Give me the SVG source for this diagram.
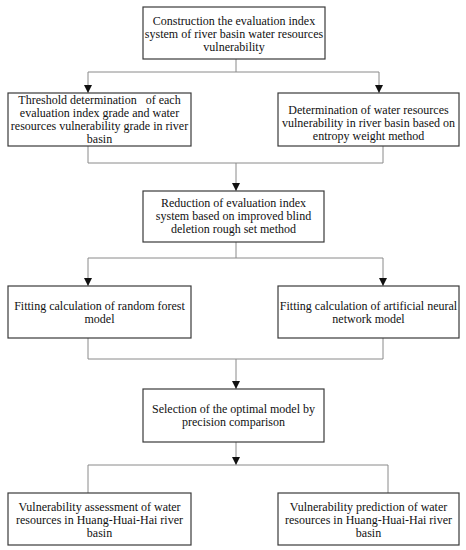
<svg xmlns="http://www.w3.org/2000/svg" width="466" height="550" viewBox="0 0 466 550">
<style>
.box{fill:#fff;stroke:#3a3a3a;stroke-width:1.2}
.ln{fill:none;stroke:#8a8a8a;stroke-width:1}
text{font-family:"Liberation Serif","Times New Roman",serif;font-size:12px;fill:#111;text-anchor:middle}
</style>
<defs>
<marker id="ah" viewBox="0 0 8 10" refX="8" refY="5" markerWidth="8" markerHeight="10" markerUnits="userSpaceOnUse" orient="auto">
<path d="M0,1 L8,5 L0,9 Z" fill="#111"/>
</marker>
</defs>
<rect width="466" height="550" fill="#fff"/>
<g id="connectors">
<path class="ln" d="M236,59 V72 M88,72 H379"/>
<path class="ln" d="M88,72 V93" marker-end="url(#ah)"/>
<path class="ln" d="M379,72 V93" marker-end="url(#ah)"/>
<path class="ln" d="M88,146 V163 H383 V146"/>
<path class="ln" d="M236,163 V191" marker-end="url(#ah)"/>
<path class="ln" d="M236,242 V258 M88,258 H383"/>
<path class="ln" d="M88,258 V286" marker-end="url(#ah)"/>
<path class="ln" d="M383,258 V286" marker-end="url(#ah)"/>
<path class="ln" d="M88,338 V359 H383 V338"/>
<path class="ln" d="M236,359 V389" marker-end="url(#ah)"/>
<path class="ln" d="M236,442 V465" marker-end="url(#ah)"/>
<path class="ln" d="M88,493 V465 H388 V493"/>
</g>
<g id="n1">
<rect class="box" x="143" y="7" width="182" height="52"/>
<text x="234" y="25">Construction the evaluation index</text>
<text x="234" y="38">system of river basin water resources</text>
<text x="234" y="51">vulnerability</text>
</g>
<g id="n2">
<rect class="box" x="8" y="93" width="183" height="53"/>
<text x="99.5" y="104" xml:space="preserve">Threshold determination   of each</text>
<text x="99.5" y="117">evaluation index grade and water</text>
<text x="99.5" y="130">resources vulnerability grade in river</text>
<text x="99.5" y="143">basin</text>
</g>
<g id="n3">
<rect class="box" x="278" y="93" width="181" height="53"/>
<text x="368.5" y="114">Determination of water resources</text>
<text x="368.5" y="127">vulnerability in river basin based on</text>
<text x="368.5" y="140">entropy weight method</text>
</g>
<g id="n4">
<rect class="box" x="143" y="191" width="181" height="51"/>
<text x="233.5" y="207">Reduction of evaluation index</text>
<text x="233.5" y="220">system based on improved blind</text>
<text x="233.5" y="233">deletion rough set method</text>
</g>
<g id="n5">
<rect class="box" x="8" y="286" width="183" height="52"/>
<text x="99.5" y="310">Fitting calculation of random forest</text>
<text x="99.5" y="323">model</text>
</g>
<g id="n6">
<rect class="box" x="278" y="286" width="181" height="52"/>
<text x="368.5" y="310">Fitting calculation of artificial neural</text>
<text x="368.5" y="323">network model</text>
</g>
<g id="n7">
<rect class="box" x="143" y="389" width="181" height="53"/>
<text x="233.5" y="413">Selection of the optimal model by</text>
<text x="233.5" y="426">precision comparison</text>
</g>
<g id="n8">
<rect class="box" x="8" y="493" width="183" height="52"/>
<text x="99.5" y="511">Vulnerability assessment of water</text>
<text x="99.5" y="524">resources in Huang-Huai-Hai river</text>
<text x="99.5" y="537">basin</text>
</g>
<g id="n9">
<rect class="box" x="278" y="493" width="181" height="52"/>
<text x="368.5" y="511">Vulnerability prediction of water</text>
<text x="368.5" y="524">resources in Huang-Huai-Hai river</text>
<text x="368.5" y="537">basin</text>
</g>
</svg>
